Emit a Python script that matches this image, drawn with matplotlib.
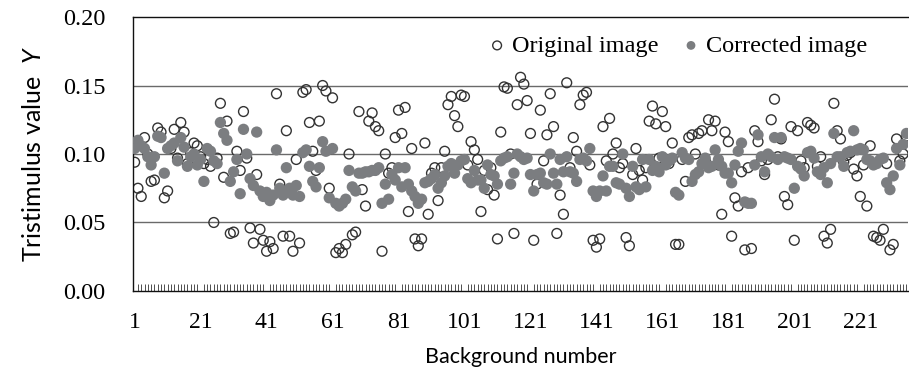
import numpy as np
import matplotlib
matplotlib.use('Agg')
import matplotlib.pyplot as plt
from matplotlib.ticker import MultipleLocator, FixedLocator

# Tristimulus value Y (x 1e-3) for each background
original = [
    94, 75, 69, 112, 100, 80, 81, 119, 116, 68,
    73, 104, 118, 97, 123, 116, 93, 101, 108, 106,
    98, 93, 96, 91, 50, 97, 137, 83, 124, 42,
    43, 102, 88, 131, 97, 46, 35, 85, 45, 37,
    29, 36, 31, 144, 78, 40, 117, 40, 29, 96,
    35, 145, 147, 123, 102, 88, 124, 150, 146, 75,
    141, 28, 31, 28, 34, 100, 41, 43, 131, 74,
    62, 124, 130, 120, 117, 29, 100, 86, 90, 112,
    132, 115, 134, 58, 104, 38, 33, 38, 108, 56,
    86, 90, 66, 90, 102, 136, 142, 128, 120, 143,
    142, 92, 109, 103, 96, 58, 88, 74, 90, 70,
    38, 116, 149, 148, 100, 42, 136, 156, 151, 139,
    115, 37, 78, 132, 95, 114, 144, 120, 42, 70,
    56, 152, 90, 112, 102, 136, 143, 145, 92, 37,
    32, 38, 120, 95, 126, 100, 108, 90, 93, 39,
    33, 85, 104, 88, 81, 90, 124, 135, 122, 97,
    131, 120, 93, 108, 34, 34, 96, 80, 112, 114,
    100, 115, 117, 95, 125, 117, 124, 92, 56, 116,
    109, 40, 68, 62, 87, 30, 90, 31, 117, 109,
    95, 85, 96, 125, 140, 98, 111, 69, 63, 120,
    37, 117, 95, 90, 123, 121, 119, 91, 98, 40,
    35, 45, 137, 117, 111, 94, 99, 101, 89, 84,
    69, 92, 62, 106, 40, 39, 37, 45, 93, 30,
    34, 111, 95, 100, 113,
]
corrected = [
    104, 110, 106, 104, 98, 92, 98, 113, 112, 86,
    104, 106, 108, 95, 112, 105, 91, 98, 100, 92,
    96, 80, 104, 102, 95, 93, 123, 115, 110, 80,
    87, 96, 71, 118, 100, 82, 77, 116, 73, 69,
    72, 66, 70, 103, 75, 70, 90, 75, 70, 77,
    69, 101, 103, 91, 80, 76, 90, 109, 102, 68,
    104, 64, 62, 64, 67, 88, 76, 73, 86, 86,
    87, 87, 88, 88, 90, 64, 78, 67, 85, 81,
    90, 76, 90, 78, 73, 69, 64, 67, 79, 80,
    82, 85, 75, 79, 84, 91, 93, 86, 92, 95,
    96, 82, 79, 88, 81, 81, 75, 92, 85, 84,
    78, 95, 97, 98, 78, 86, 100, 98, 96, 97,
    85, 73, 85, 86, 79, 78, 100, 86, 78, 96,
    87, 98, 87, 86, 80, 96, 97, 95, 104, 73,
    69, 73, 84, 73, 91, 91, 79, 78, 100, 75,
    69, 91, 76, 74, 96, 76, 96, 88, 91, 87,
    98, 92, 95, 97, 72, 70, 101, 97, 96, 80,
    85, 87, 93, 97, 90, 91, 103, 96, 91, 86,
    86, 79, 92, 102, 108, 65, 64, 64, 92, 114,
    98, 87, 100, 98, 112, 96, 112, 98, 97, 96,
    75, 91, 89, 84, 101, 102, 97, 87, 85, 90,
    79, 93, 115, 98, 98, 91, 101, 102, 117, 103,
    104, 103, 96, 95, 92, 93, 96, 97, 79, 74,
    84, 104, 92, 107, 115,
]
background = np.arange(1, len(original) + 1)
y_orig = np.array(original) / 1000.0
y_corr = np.array(corrected) / 1000.0

xtick_labels = [1, 21, 41, 61, 81, 101, 121, 141, 161, 181, 201, 221]
ytick_values = [0.0, 0.05, 0.10, 0.15, 0.20]

plt.rcParams['mathtext.fontset'] = 'custom'
plt.rcParams['mathtext.it'] = 'Lato:italic'
serif = 'Liberation Serif'
sans = 'Lato'

fig = plt.figure(figsize=(9.09, 3.78), dpi=100)
ax = fig.add_axes([0.1463, 0.2302, 0.8527, 0.7248])

for yv in ytick_values[1:4]:
    ax.axhline(yv, color='#6a6a6a', lw=1.0, zorder=1)

ax.scatter(background, y_orig, s=50, facecolors='none', edgecolors='#333333',
           linewidths=1.0, zorder=2, label='Original image')
ax.scatter(background, y_corr, s=66, color='#7b7d80', edgecolors='none',
           zorder=3, label='Corrected image')

ax.set_xlim(0.5, len(original) + 0.5)
ax.set_ylim(0, 0.2)

ax.xaxis.set_major_locator(FixedLocator(xtick_labels))
ax.set_xticklabels([str(v) for v in xtick_labels], fontfamily=serif, fontsize=17)
ax.xaxis.set_minor_locator(MultipleLocator(1))
ax.tick_params(axis='x', which='major', length=0, pad=15)
ax.tick_params(axis='x', which='minor', direction='in', length=5, width=0.6, color='#333333')

ax.set_yticks(ytick_values)
ax.set_yticklabels(['%.2f' % v for v in ytick_values], fontfamily=serif, fontsize=17.5)
ax.tick_params(axis='y', length=0, pad=20)

for side in ['left', 'bottom', 'top']:
    ax.spines[side].set_color('#111111')
    ax.spines[side].set_linewidth(1.0)
ax.spines['right'].set_visible(False)

ax.set_xlabel('Background number', fontfamily=sans, fontsize=15.5, labelpad=10)
ax.set_ylabel('Tristimulus value  $Y$', fontfamily=sans, fontsize=18, labelpad=13)

leg = ax.legend(loc='upper right', bbox_to_anchor=(0.975, 1.015), ncol=2, frameon=False,
                prop={'family': serif, 'size': 17.5}, handlelength=0.7,
                handletextpad=0.25, columnspacing=1.0, scatterpoints=1)
for h in leg.legend_handles:
    h.set_sizes([40])

fig.savefig('out.png', dpi=100)
